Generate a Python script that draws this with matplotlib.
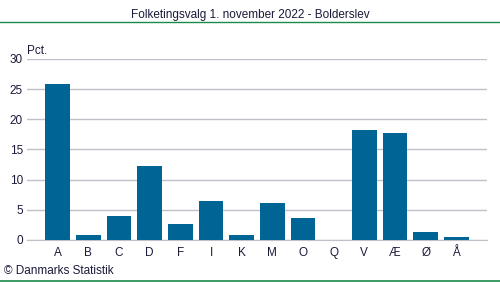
import matplotlib.pyplot as plt
from matplotlib.lines import Line2D

plt.rcParams['font.family'] = ['Liberation Sans', 'DejaVu Sans']

parties = ['A', 'B', 'C', 'D', 'F', 'I', 'K', 'M', 'O', 'Q', 'V', 'Æ', 'Ø', 'Å']
pct = [25.9, 0.8, 4.0, 12.3, 2.7, 6.5, 0.8, 6.2, 3.7, 0.0, 18.3, 17.7, 1.3, 0.5]
yticks = [0, 5, 10, 15, 20, 25, 30]

fig = plt.figure(figsize=(5, 2.82), dpi=100)
ax = fig.add_axes([0.054, 0.149, 0.92, 0.642])

positions = range(1, len(parties) + 1)
ax.bar(positions, pct, width=0.81, color='#006595', zorder=3)

ax.set_xlim(0, 15)
ax.set_ylim(0, 30)
ax.set_yticks(yticks)
ax.set_xticks(list(positions))
ax.set_xticklabels(parties)
ax.grid(axis='y', color='#c0c0c8', linewidth=1, zorder=0)
for s in ['top', 'right', 'left']:
    ax.spines[s].set_visible(False)
ax.spines['bottom'].set_color('#c0c0c8')
ax.tick_params(axis='both', length=0, labelsize=8.5, colors='#1a1a3a')
ax.tick_params(axis='x', pad=5)
ax.tick_params(axis='y', pad=3)

ax.text(0.0, 1.01, 'Pct.', transform=ax.transAxes, fontsize=8.5, color='#1a1a3a',
        ha='left', va='bottom')

fig.text(0.5, 0.947, 'Folketingsvalg 1. november 2022 - Bolderslev', ha='center',
         va='center', fontsize=8.5, color='#1a1a3a')
fig.add_artist(Line2D([0, 1], [0.922, 0.922], color='#1a8a4a', linewidth=1,
                      transform=fig.transFigure))
fig.add_artist(Line2D([0, 1], [0.004, 0.004], color='#1a8a4a', linewidth=1.2,
                      transform=fig.transFigure))
fig.text(0.008, 0.04, '© Danmarks Statistik', ha='left', va='center', fontsize=8.5,
         color='#1a1a3a')

fig.savefig('out.png', dpi=100)
